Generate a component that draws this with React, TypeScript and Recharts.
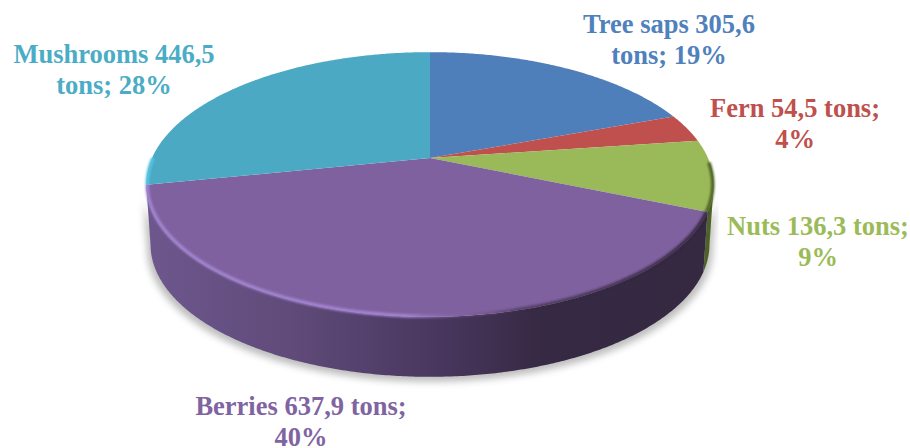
import React from 'react';
import { PieChart, Pie } from 'recharts';

// ---- data ----
const categories = ['Tree saps', 'Fern', 'Nuts', 'Berries', 'Mushrooms'];
const tons = [305.6, 54.5, 136.3, 637.9, 446.5];
const firstLines = ['Tree saps 305,6', 'Fern 54,5 tons;', 'Nuts 136,3 tons;', 'Berries 637,9 tons;', 'Mushrooms 446,5'];
const secondLines = ['tons; 19%', '4%', '9%', '40%', 'tons; 28%'];

// ---- styles ----
const topColors = ['#4f7fbb', '#bf504d', '#9aba59', '#7f619f', '#4ba9c4'];
const labelColors = ['#4f81bd', '#c0504d', '#9bbb59', '#8064a2', '#4bacc6'];
const labelCenterX = [669, 795, 818, 301, 114];
const labelBaseY = [33, 117, 235, 415, 63];
const LINE_H = 31;
const FONT_SIZE = 26.5;
const W = 910;
const H = 448;

const rows = categories.map((name, i) => ({ name, value: tons[i] }));

// ---- perspective projection of the library's sector angles ----
const PERSP = 0.2;
const SQUASH = 0.457;
const DEPTH = 60;
const BOTTOM_SCALE = 0.985;
const FRONT_FROM = 101.5;
const FRONT_TO = 258.5;
const RIM_FROM = 92;
const RIM_TO = 270;

const project = (cx: number, cy: number, R: number, theta: number) => {
  const t = (theta * Math.PI) / 180;
  const d = 1 + PERSP * Math.cos(t);
  return { x: cx + (R * Math.sin(t)) / d, y: cy - (R * SQUASH * Math.cos(t)) / d };
};

const arcPoints = (cx: number, cy: number, R: number, from: number, to: number) => {
  const pts = [];
  const n = Math.max(2, Math.ceil(Math.abs(to - from) * 2));
  for (let i = 0; i <= n; i++) pts.push(project(cx, cy, R, from + ((to - from) * i) / n));
  return pts;
};

const toPath = (pts: { x: number; y: number }[]) =>
  pts.map((p, i) => `${i ? 'L' : 'M'}${p.x.toFixed(2)} ${p.y.toFixed(2)}`).join(' ');

const sweep = (props: any) => ({
  from: 90 - props.startAngle,
  to: 90 - props.endAngle,
  i: categories.indexOf(props.name),
});

const wallPath = (props: any, from: number, to: number, grow = 1, shift = 0) => {
  const { cx, cy, outerRadius: R } = props;
  const upper = arcPoints(cx, cy, R, from, to).map((p) => ({ x: cx + (p.x - cx) * grow, y: p.y + shift }));
  const lower = upper
    .map((p) => ({ x: cx + (p.x - cx) * BOTTOM_SCALE, y: p.y + DEPTH }))
    .reverse();
  return toPath([...upper, ...lower]) + ' Z';
};

const ShadowShape = (props: any) => {
  const { from, to } = sweep(props);
  const a = Math.max(from, FRONT_FROM);
  const b = Math.min(to, FRONT_TO);
  if (b <= a) return null;
  return <path d={wallPath(props, a, b, 1.012, 5)} fill="#000" fillOpacity={0.26} filter="url(#softShadow)" />;
};

const WallShape = (props: any) => {
  const { from, to, i } = sweep(props);
  const a = Math.max(from, FRONT_FROM);
  const b = Math.min(to, FRONT_TO);
  if (b <= a) return null;
  return <path d={wallPath(props, a, b)} fill={categories[i] === 'Berries' ? 'url(#wallBerries)' : '#4e6227'} />;
};

const TopShape = (props: any) => {
  const { cx, cy, outerRadius: R } = props;
  const { from, to, i } = sweep(props);
  const rim = arcPoints(cx, cy, R, from, to);
  const a = Math.max(from, RIM_FROM);
  const b = Math.min(to, RIM_TO);
  const rimStroke =
    categories[i] === 'Berries' ? 'url(#rimBerries)' : categories[i] === 'Nuts' ? '#4e6227' : '#58c4e4';
  return (
    <g>
      <path d={`M${cx} ${cy} ${toPath(rim).replace('M', 'L')} Z`} fill={topColors[i]} />
      {b > a && (
        <path
          d={toPath(arcPoints(cx, cy, R - 1, a, b))}
          fill="none"
          stroke={rimStroke}
          strokeWidth={3.5}
          filter="url(#softRim)"
        />
      )}
    </g>
  );
};

const renderLabel = (props: any) => {
  const i = categories.indexOf(props.name);
  return (
    <text
      key={props.name}
      textAnchor="middle"
      fontFamily="'Liberation Serif', serif"
      fontWeight="bold"
      fontSize={FONT_SIZE}
      fill={labelColors[i]}
    >
      <tspan x={labelCenterX[i]} y={labelBaseY[i]}>{firstLines[i]}</tspan>
      <tspan x={labelCenterX[i]} y={labelBaseY[i] + LINE_H}>{secondLines[i]}</tspan>
    </text>
  );
};

const pieProps = {
  data: rows,
  dataKey: 'value',
  nameKey: 'name',
  cx: 430,
  cy: 158,
  innerRadius: 0,
  outerRadius: 278,
  startAngle: 90,
  endAngle: -270,
  stroke: 'none',
  isAnimationActive: false,
  legendType: 'none' as const,
  rootTabIndex: -1,
};

export default function App() {
  return (
    <div style={{ position: 'absolute', left: 0, top: 0, width: W, height: H, background: '#fff', overflow: 'hidden' }}>
      <PieChart width={W} height={H} margin={{ top: 0, right: 0, bottom: 0, left: 0 }}>
        <defs>
          <filter id="softShadow" x="-10%" y="-20%" width="120%" height="150%">
            <feGaussianBlur stdDeviation="3.5" />
          </filter>
          <filter id="softRim" filterUnits="userSpaceOnUse" x="0" y="0" width={W} height={H}>
            <feGaussianBlur stdDeviation="1.3" />
          </filter>
          <linearGradient id="wallBerries" gradientUnits="userSpaceOnUse" x1="146" y1="0" x2="714" y2="0">
            <stop offset="0" stopColor="#6d578e" />
            <stop offset="0.25" stopColor="#604b7a" />
            <stop offset="0.5" stopColor="#4a3860" />
            <stop offset="0.7" stopColor="#362943" />
            <stop offset="1" stopColor="#352841" />
          </linearGradient>
          <linearGradient id="rimBerries" gradientUnits="userSpaceOnUse" x1="146" y1="0" x2="714" y2="0">
            <stop offset="0" stopColor="#a284d0" />
            <stop offset="0.46" stopColor="#a284d0" />
            <stop offset="0.56" stopColor="#7f619f" stopOpacity="0.3" />
            <stop offset="0.66" stopColor="#352841" stopOpacity="0.6" />
            <stop offset="1" stopColor="#352841" />
          </linearGradient>
        </defs>
        <Pie {...pieProps} shape={ShadowShape} />
        <Pie {...pieProps} shape={WallShape} />
        <Pie {...pieProps} shape={TopShape} label={renderLabel} labelLine={false} />
      </PieChart>
    </div>
  );
}
